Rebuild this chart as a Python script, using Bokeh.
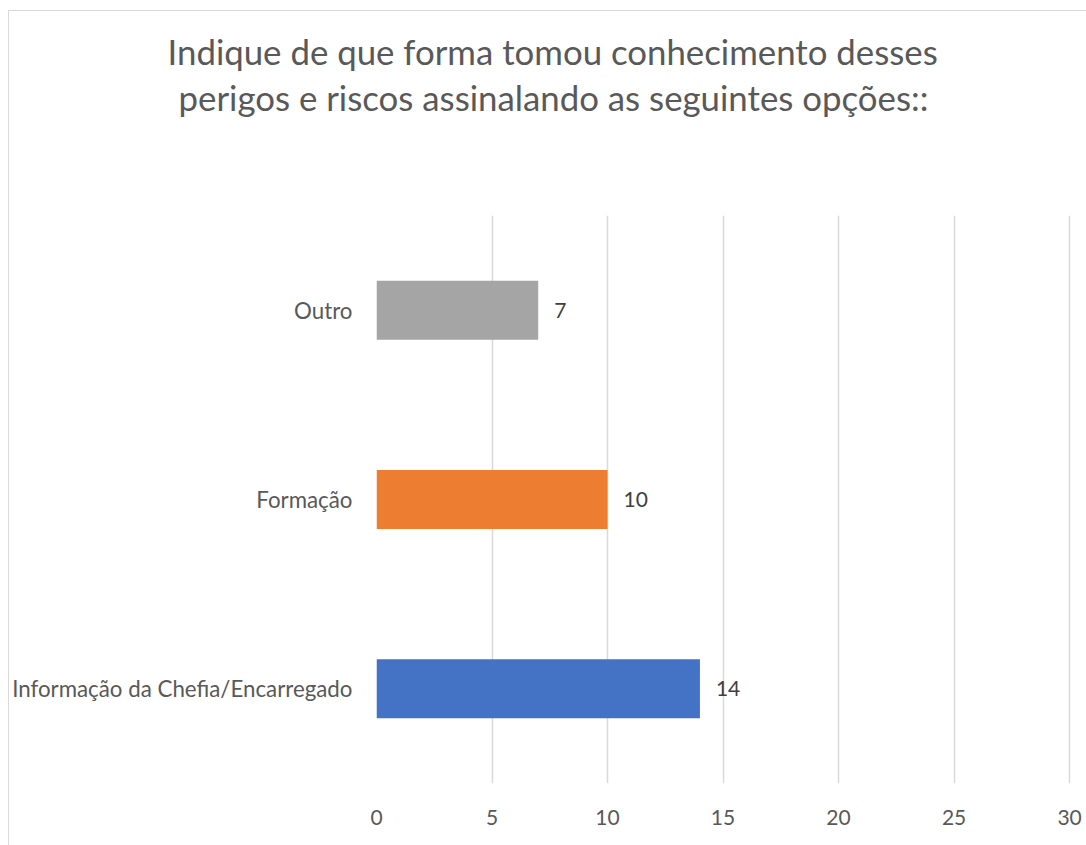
from bokeh.plotting import figure
from bokeh.models import Title, ColumnDataSource, FixedTicker, Range1d
from bokeh.layouts import column
from bokeh.core.properties import value
from bokeh.embed import file_html
from bokeh.resources import INLINE

categories = ["Informação da Chefia/Encarregado", "Formação", "Outro"]
counts = [14, 10, 7]
colors = ["#4472C4", "#ED7D31", "#A5A5A5"]
x_ticks = [0, 5, 10, 15, 20, 25, 30]
title_lines = ["Indique de que forma tomou conhecimento desses",
               "perigos e riscos assinalando as seguintes opções::"]

FONT = "Lato"
GRAY = "#595959"
W = 1078
TH = 190

# ---- title strip: titles sit in its top border, its empty frame is the gap ----
t = figure(width=W, height=TH, output_backend="svg", toolbar_location=None,
           x_range=Range1d(0, 30.3), y_range=Range1d(0, 1),
           x_axis_location=None, y_axis_location=None,
           min_border_left=367, min_border_right=11, min_border_top=108, min_border_bottom=0)
t.outline_line_color = None
t.grid.visible = False
# second line first (closest to the frame), then the first line above it
t.add_layout(Title(text=title_lines[1], align="left", offset=-198, standoff=3,
                   text_font=FONT, text_font_size="34.8px", text_font_style="normal",
                   text_color=GRAY), "above")
t.add_layout(Title(text=title_lines[0], align="left", offset=-209, standoff=3,
                   text_font=FONT, text_font_size="34.8px", text_font_style="normal",
                   text_color=GRAY), "above")

# ---- chart ----
ypos = list(range(len(categories)))
src = ColumnDataSource(dict(y=ypos, v=counts, c=colors, t=[str(c) for c in counts]))

p = figure(width=W, height=835 - TH, output_backend="svg", toolbar_location=None,
           x_range=Range1d(0, 30.3), y_range=Range1d(-0.5, 2.5),
           min_border_left=367, min_border_right=11, min_border_top=14, min_border_bottom=63)
p.outline_line_color = None

p.hbar(y="y", right="v", left=0, height=0.312, color="c", line_color=None, source=src)
p.text(x="v", y="y", text="t", x_offset=16, text_baseline="middle", text_align="left",
       text_font=value(FONT), text_font_size="21px", text_color="#404040", source=src)

p.xgrid.grid_line_color = "#d9d9d9"
p.xgrid.grid_line_width = 1.5
p.ygrid.grid_line_color = None
p.xaxis.ticker = FixedTicker(ticks=x_ticks)
p.yaxis.ticker = FixedTicker(ticks=ypos)
p.yaxis.major_label_overrides = {i: c for i, c in enumerate(categories)}
for ax in (p.xaxis[0], p.yaxis[0]):
    ax.axis_line_color = None
    ax.major_tick_line_color = None
    ax.minor_tick_line_color = None
    ax.major_label_text_font = FONT
    ax.major_label_text_color = GRAY
p.yaxis.major_label_text_font_size = "22.3px"
p.xaxis.major_label_text_font_size = "21px"
p.xaxis.major_label_standoff = 20
p.yaxis.major_label_standoff = 18

layout = column(t, p, spacing=0)
layout.styles = {"margin-left": "8px", "margin-top": "10px",
                 "border-left": "1px solid #d9d9d9", "border-top": "1px solid #d9d9d9"}

open("out.html", "w").write(file_html(layout, INLINE))
